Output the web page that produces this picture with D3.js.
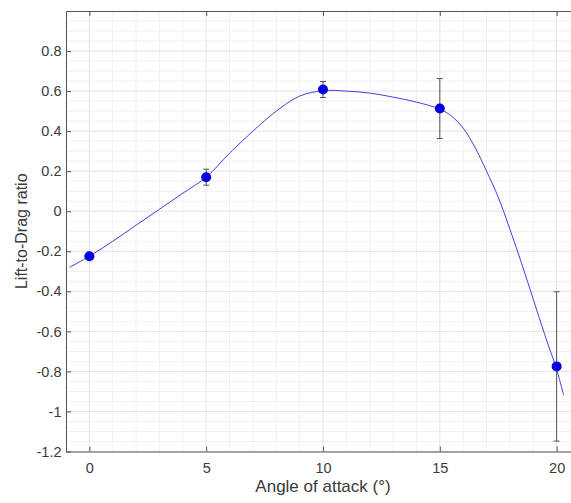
<!DOCTYPE html>
<html>
<head>
<meta charset="utf-8">
<script src="https://cdn.jsdelivr.net/npm/d3@7"></script>
<style>
  body { margin: 0; background: #fff; }
  svg { display: block; font-family: "Liberation Sans", Arial, sans-serif; }
</style>
</head>
<body>
<svg id="chart" width="571" height="503"></svg>
<script>
// measured points with error bars
const angles = [0, 5, 10, 15, 20];
const ratios = [-0.225, 0.17, 0.608, 0.513, -0.775];
const errors = [0.008, 0.04, 0.04, 0.15, 0.373];

// fitted curve
const fitX = [-0.85, 0, 1, 2, 3, 4, 5, 6, 7, 8, 9, 10, 11, 12, 13, 14, 15, 15.5, 16, 16.5, 17, 17.5, 18, 18.5, 19, 19.5, 20, 20.3];
const fitY = [-0.28, -0.225, -0.15, -0.07, 0.01, 0.09, 0.17, 0.29, 0.40, 0.50, 0.575, 0.602, 0.600, 0.59, 0.57, 0.545, 0.51, 0.475, 0.415, 0.32, 0.20, 0.07, -0.09, -0.26, -0.44, -0.62, -0.79, -0.92];

const xTicks = [0, 5, 10, 15, 20];
const yTicks = [-1.2, -1, -0.8, -0.6, -0.4, -0.2, 0, 0.2, 0.4, 0.6, 0.8];

const svg = d3.select("#chart");
const margin = { top: 11, left: 66, bottom: 51.5 };
const plotRight = 580; // box runs past the picture edge
const height = 503 - margin.top - margin.bottom;

const x = d3.scaleLinear().domain([-1, 21]).range([margin.left, plotRight]);
const y = d3.scaleLinear().domain([-1.2, 1.0]).range([margin.top + height, margin.top]);

const g = svg.append("g");

// minor grid: every 1 on x, every 0.05 on y
const minorX = d3.range(-1, 22, 1).filter(v => v % 5 !== 0);
const minorY = d3.range(-24, 21, 1).filter(v => v % 4 !== 0).map(v => v * 0.05);

g.selectAll(".mx").data(minorX).enter().append("line")
  .attr("x1", d => x(d)).attr("x2", d => x(d))
  .attr("y1", y(-1.2)).attr("y2", y(1.0))
  .attr("stroke", "#f1f1f1").attr("stroke-width", 1);
g.selectAll(".my").data(minorY).enter().append("line")
  .attr("x1", x(-1)).attr("x2", x(21))
  .attr("y1", d => y(d)).attr("y2", d => y(d))
  .attr("stroke", "#f1f1f1").attr("stroke-width", 1);

// major grid
g.selectAll(".gx").data(xTicks).enter().append("line")
  .attr("x1", d => x(d)).attr("x2", d => x(d))
  .attr("y1", y(-1.2)).attr("y2", y(1.0))
  .attr("stroke", "#e2e2e2").attr("stroke-width", 1);
g.selectAll(".gy").data(yTicks).enter().append("line")
  .attr("x1", x(-1)).attr("x2", x(21))
  .attr("y1", d => y(d)).attr("y2", d => y(d))
  .attr("stroke", "#e2e2e2").attr("stroke-width", 1);

// axes with inward ticks
const fmt = d => String(+d.toFixed(1));
const axisStyle = sel => {
  sel.select(".domain").attr("stroke", "#555");
  sel.selectAll(".tick line").attr("stroke", "#555");
  sel.selectAll(".tick text").attr("fill", "#3a3a3a").style("font-size", "14.5px");
};

svg.append("g")
  .attr("transform", `translate(0,${y(-1.2)})`)
  .call(d3.axisBottom(x).tickValues(xTicks).tickSizeInner(-5).tickSizeOuter(0).tickPadding(11))
  .call(axisStyle);
svg.append("g")
  .attr("transform", `translate(0,${y(1.0)})`)
  .call(d3.axisTop(x).tickValues(xTicks).tickSizeInner(-5).tickSizeOuter(0).tickFormat(""))
  .call(axisStyle);
svg.append("g")
  .attr("transform", `translate(${x(-1)},0)`)
  .call(d3.axisLeft(y).tickValues(yTicks).tickSizeInner(-5).tickSizeOuter(0).tickPadding(4.5).tickFormat(fmt))
  .call(axisStyle);

// fitted curve
const line = d3.line().x((d, i) => x(fitX[i])).y(d => y(d)).curve(d3.curveCatmullRom.alpha(0.5));
svg.append("path")
  .datum(fitY)
  .attr("d", line)
  .attr("fill", "none")
  .attr("stroke", "#4040e0")
  .attr("stroke-width", 1);

// error bars
const eb = svg.append("g").attr("stroke", "#555").attr("stroke-width", 1);
angles.forEach((a, i) => {
  const lo = ratios[i] - errors[i], hi = ratios[i] + errors[i];
  eb.append("line").attr("x1", x(a)).attr("x2", x(a)).attr("y1", y(lo)).attr("y2", y(hi));
  eb.append("line").attr("x1", x(a) - 3).attr("x2", x(a) + 3).attr("y1", y(lo)).attr("y2", y(lo));
  eb.append("line").attr("x1", x(a) - 3).attr("x2", x(a) + 3).attr("y1", y(hi)).attr("y2", y(hi));
});

// markers
svg.selectAll(".pt").data(angles).enter().append("circle")
  .attr("cx", d => x(d))
  .attr("cy", (d, i) => y(ratios[i]))
  .attr("r", 5)
  .attr("fill", "#0000e0");

// labels
svg.append("text")
  .attr("x", (x(-1) + x(21)) / 2)
  .attr("y", 492)
  .attr("text-anchor", "middle")
  .attr("fill", "#3a3a3a")
  .style("font-size", "17px")
  .text("Angle of attack (°)");

svg.append("text")
  .attr("transform", `translate(27,${(y(-1.2) + y(1.0)) / 2}) rotate(-90)`)
  .attr("text-anchor", "middle")
  .attr("fill", "#3a3a3a")
  .style("font-size", "16px")
  .text("Lift-to-Drag ratio");
</script>
</body>
</html>
